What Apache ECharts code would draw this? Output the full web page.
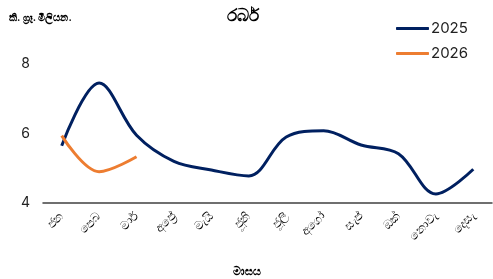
<!DOCTYPE html>
<html>
<head>
<meta charset="utf-8">
<style>
  html, body { margin: 0; padding: 0; background: #fff; }
  #chart { width: 493px; height: 279px; }
</style>
<script src="https://cdn.jsdelivr.net/npm/echarts@6/dist/echarts.min.js"></script>
</head>
<body>
<div id="chart"></div>
<script>
// months (Sinhala short names)
const months = ['ජන', 'පෙබ', 'මාර්', 'අප්‍රේ', 'මැයි', 'ජූනි', 'ජූලි', 'අගෝ', 'සැප්', 'ඔක්', 'නොවැ', 'දෙසැ']
const rubber2025 = [5.65, 7.45, 5.95, 5.2, 4.95, 4.78, 5.9, 6.08, 5.67, 5.42, 4.26, 4.97]
const rubber2026 = [5.94, 4.9, 5.33]
const seriesNames = ['2025', '2026']

const font = 'Inter, "Noto Sans", sans-serif'
const chart = echarts.init(document.getElementById('chart'))

chart.setOption({
  animation: false,
  title: [
    { text: 'රබර්', left: 238, top: 2, textAlign: 'center',
      textStyle: { fontSize: 17, fontWeight: 600, color: '#000', fontFamily: font } },
    { text: 'කි. ග්‍රෑ. මිලියන.', left: 4, top: 8,
      textStyle: { fontSize: 10, fontWeight: 'bold', color: '#000', fontFamily: font } },
    { text: 'මාසය', left: 242, top: 261, textAlign: 'center',
      textStyle: { fontSize: 11, fontWeight: 'bold', color: '#000', fontFamily: font } }
  ],
  legend: {
    data: seriesNames,
    orient: 'vertical',
    left: 391,
    top: 16,
    itemWidth: 33,
    itemHeight: 3,
    itemGap: 10,
    icon: 'roundRect',
    textStyle: { fontSize: 15, color: '#222', fontFamily: font, padding: [0, 0, 0, -3] }
  },
  grid: { left: 43, right: 1, top: 64, bottom: 76, containLabel: false },
  xAxis: {
    type: 'category',
    data: months,
    boundaryGap: true,
    axisLine: { lineStyle: { color: '#404040', width: 1.5 } },
    axisTick: { show: false },
    axisLabel: { rotate: 45, fontSize: 12, color: '#000', margin: 11, fontFamily: font }
  },
  yAxis: {
    type: 'value',
    min: 4,
    max: 8,
    interval: 2,
    axisLine: { show: false },
    axisTick: { show: false },
    splitLine: { show: false },
    axisLabel: { fontSize: 14, color: '#222', margin: 13, fontFamily: font }
  },
  series: [
    {
      name: '2025', type: 'line', smooth: 0.35, showSymbol: false,
      data: rubber2025,
      itemStyle: { color: '#002060' },
      lineStyle: { color: '#002060', width: 3 }
    },
    {
      name: '2026', type: 'line', smooth: 0.35, showSymbol: false,
      data: rubber2026,
      itemStyle: { color: '#ED7D31' },
      lineStyle: { color: '#ED7D31', width: 3 }
    }
  ]
})
</script>
</body>
</html>
